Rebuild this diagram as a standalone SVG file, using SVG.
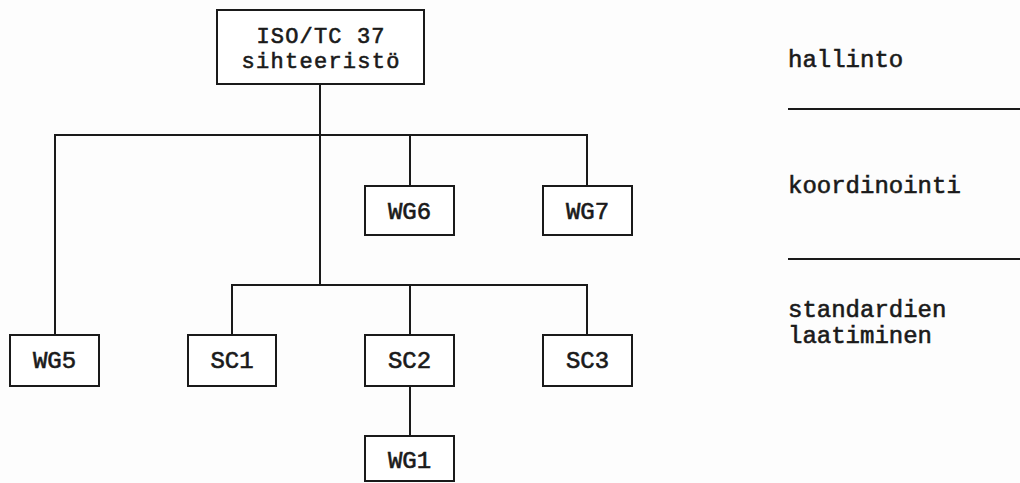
<svg xmlns="http://www.w3.org/2000/svg" width="1020" height="483" viewBox="0 0 1020 483">
<style>
.box{fill:#fff;stroke:#1a1a1a;stroke-width:2}
.ln{stroke:#1a1a1a;stroke-width:2;fill:none}
text{font-family:"Liberation Mono","DejaVu Sans Mono",monospace;font-size:24px;fill:#1a1a1a;stroke:#1a1a1a;stroke-width:0.6}
.c{text-anchor:middle}
.t{font-size:22px}
</style>
<rect width="1020" height="483" fill="#fdfdfd"/>
<g id="connectors">
<path class="ln" d="M320 84V285M55 335V135H587V186M410 135V186M232 335V285H587V335M410 285V335M410 386V436"/>
<path class="ln" d="M788 109H1020M788 259H1020"/>
</g>
<g id="n-top"><rect class="box" x="217" y="10" width="207" height="74"/><text class="c t" x="320.5" y="43" textLength="128" lengthAdjust="spacing">ISO/TC 37</text><text class="c t" x="320.5" y="68" textLength="158" lengthAdjust="spacing">sihteeristö</text></g>
<g id="n-wg6"><rect class="box" x="365" y="186" width="89" height="49"/><text class="c" x="409.5" y="219">WG6</text></g>
<g id="n-wg7"><rect class="box" x="543" y="186" width="89" height="49"/><text class="c" x="587.5" y="219">WG7</text></g>
<g id="n-wg5"><rect class="box" x="10" y="335" width="89" height="51"/><text class="c" x="54.5" y="368">WG5</text></g>
<g id="n-sc1"><rect class="box" x="188" y="335" width="88" height="51"/><text class="c" x="232" y="368">SC1</text></g>
<g id="n-sc2"><rect class="box" x="365" y="335" width="89" height="51"/><text class="c" x="409.5" y="368">SC2</text></g>
<g id="n-sc3"><rect class="box" x="543" y="335" width="89" height="51"/><text class="c" x="587.5" y="368">SC3</text></g>
<g id="n-wg1"><rect class="box" x="365" y="436" width="89" height="45"/><text class="c" x="409.5" y="468">WG1</text></g>
<g id="labels">
<text x="788" y="67">hallinto</text>
<text x="788" y="193">koordinointi</text>
<text x="788" y="317">standardien</text>
<text x="788" y="343">laatiminen</text>
</g>
</svg>
